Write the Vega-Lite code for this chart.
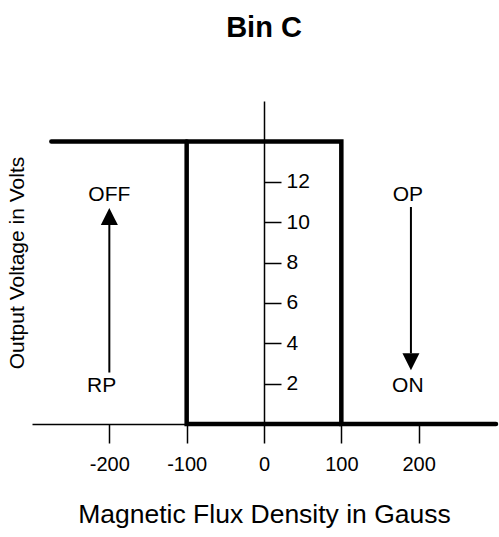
{
  "$schema": "https://vega.github.io/schema/vega-lite/v6.json",
  "width": 464,
  "height": 323,
  "autosize": {"type": "none"},
  "padding": {"left": 32, "top": 101, "right": 3, "bottom": 113},
  "background": "white",
  "title": {"text": "Bin C", "fontSize": 29, "fontWeight": "bold", "font": "Liberation Sans", "color": "black", "anchor": "middle", "offset": 35, "baseline": "alphabetic"},
  "config": {
    "view": {"stroke": null},
    "font": "Liberation Sans",
    "axis": {"grid": false, "domainColor": "black", "tickColor": "black", "labelColor": "black", "titleColor": "black", "labelFont": "Liberation Sans", "titleFont": "Liberation Sans", "titleFontWeight": "normal"}
  },
  "resolve": {"axis": {"y": "independent"}},
  "layer": [
    {
      "data": {"values": [
        {"series": "a", "seq": 1, "flux": -275, "volt": 14},
        {"series": "a", "seq": 2, "flux": 100, "volt": 14},
        {"series": "a", "seq": 3, "flux": 100, "volt": 0},
        {"series": "a", "seq": 4, "flux": 300, "volt": 0},
        {"series": "b", "seq": 1, "flux": -100, "volt": 14},
        {"series": "b", "seq": 2, "flux": -100, "volt": 0},
        {"series": "b", "seq": 3, "flux": 100, "volt": 0}
      ]},
      "mark": {"type": "line", "color": "black", "strokeWidth": 4.5, "strokeCap": "round", "strokeJoin": "miter"},
      "encoding": {
        "x": {"field": "flux", "type": "quantitative", "scale": {"domain": [-300, 300], "nice": false, "zero": false},
          "axis": {"values": [-200, -100, 0, 100, 200], "labelExpr": "replace(datum.label, '\u2212', '-')", "title": "Magnetic Flux Density in Gauss", "titleFontSize": 26.5, "titlePadding": 27, "labelFontSize": 20, "labelPadding": 11, "tickSize": 19, "tickWidth": 1.5, "domainWidth": 1.5, "labelFlush": false}},
        "y": {"field": "volt", "type": "quantitative", "scale": {"domain": [0, 16], "nice": false},
          "axis": {"orient": "right", "offset": -232, "values": [2, 4, 6, 8, 10, 12], "title": null, "labelFontSize": 21, "labelPadding": 5, "tickSize": 17, "tickWidth": 1.5, "domainWidth": 1.5, "labelBaseline": "middle"}},
        "detail": {"field": "series"},
        "order": {"field": "seq"}
      }
    },
    {
      "data": {"values": [
        {"flux": -200, "from": 2.55, "to": 9.9},
        {"flux": 190, "from": 10.75, "to": 3.5}
      ]},
      "mark": {"type": "rule", "color": "black", "strokeWidth": 2},
      "encoding": {
        "x": {"field": "flux", "type": "quantitative"},
        "y": {"field": "from", "type": "quantitative", "axis": null},
        "y2": {"field": "to"}
      }
    },
    {
      "data": {"values": [
        {"flux": -200, "volt": 10.28, "dir": "up"},
        {"flux": 190, "volt": 3.08, "dir": "down"}
      ]},
      "mark": {"type": "point", "filled": true, "color": "black", "opacity": 1, "size": 290},
      "encoding": {
        "x": {"field": "flux", "type": "quantitative"},
        "y": {"field": "volt", "type": "quantitative", "axis": null},
        "shape": {"field": "dir", "type": "nominal", "scale": {"domain": ["up", "down"], "range": ["M0,-1L1,1L-1,1Z", "M0,1L1,-1L-1,-1Z"]}, "legend": null}
      }
    },
    {
      "data": {"values": [
        {"label": "OFF", "flux": -200, "volt": 11.33},
        {"label": "RP", "flux": -210, "volt": 1.86},
        {"label": "OP", "flux": 186, "volt": 11.33},
        {"label": "ON", "flux": 186, "volt": 1.86}
      ]},
      "mark": {"type": "text", "color": "black", "fontSize": 21, "align": "center", "baseline": "middle", "font": "Liberation Sans"},
      "encoding": {
        "x": {"field": "flux", "type": "quantitative"},
        "y": {"field": "volt", "type": "quantitative",
          "axis": {"orient": "left", "title": "Output Voltage in Volts", "titleFontSize": 21, "titlePadding": 9, "titleBaseline": "alphabetic", "domain": false, "ticks": false, "labels": false}},
        "text": {"field": "label"}
      }
    }
  ]
}
